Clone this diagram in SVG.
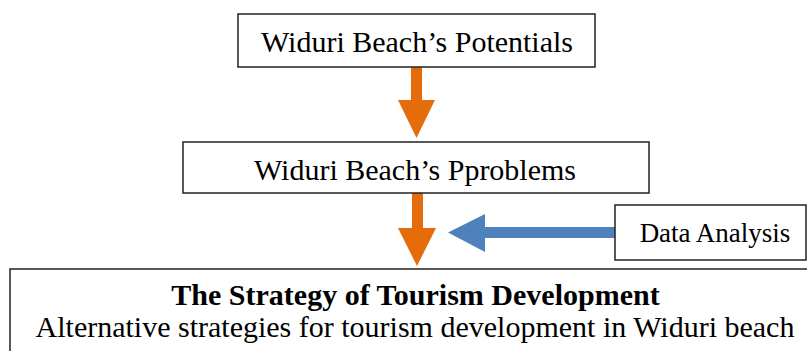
<svg xmlns="http://www.w3.org/2000/svg" width="807" height="351" viewBox="0 0 807 351">
<style>
.box{fill:#fff;stroke:#222;stroke-width:1.5}
.t{font-family:"Liberation Serif","Times New Roman",serif;font-size:30px;fill:#000;text-anchor:middle}
.b{font-weight:bold}
.or{fill:#E46C0A}
.bl{fill:#4F81BD}
</style>
<rect width="807" height="351" fill="#fff"/>
<g id="connectors">
<polygon class="or" points="411,67 422,67 422,100 435,100 416.5,138 398,100 411,100"/>
<polygon class="or" points="412,193 423,193 423,228 436,228 417,266 398,228 412,228"/>
<polygon class="bl" points="615,227 485,227 485,214 448,232.5 485,252 485,238 615,238"/>
</g>
<g id="potentials">
<rect class="box" x="238" y="14" width="357" height="53"/>
<text class="t" x="417" y="52">Widuri Beach’s Potentials</text>
</g>
<g id="problems">
<rect class="box" x="183" y="142" width="466" height="51"/>
<text class="t" x="415" y="180">Widuri Beach’s Pproblems</text>
</g>
<g id="data-analysis">
<rect class="box" x="615" y="205" width="191" height="55"/>
<text class="t" x="715" y="242" style="font-size:27px">Data Analysis</text>
</g>
<g id="strategy">
<rect class="box" x="10" y="269" width="820" height="100"/>
<text class="t b" x="415.5" y="305">The Strategy of Tourism Development</text>
<text class="t" x="415" y="337">Alternative strategies for tourism development in Widuri beach</text>
</g>
</svg>
